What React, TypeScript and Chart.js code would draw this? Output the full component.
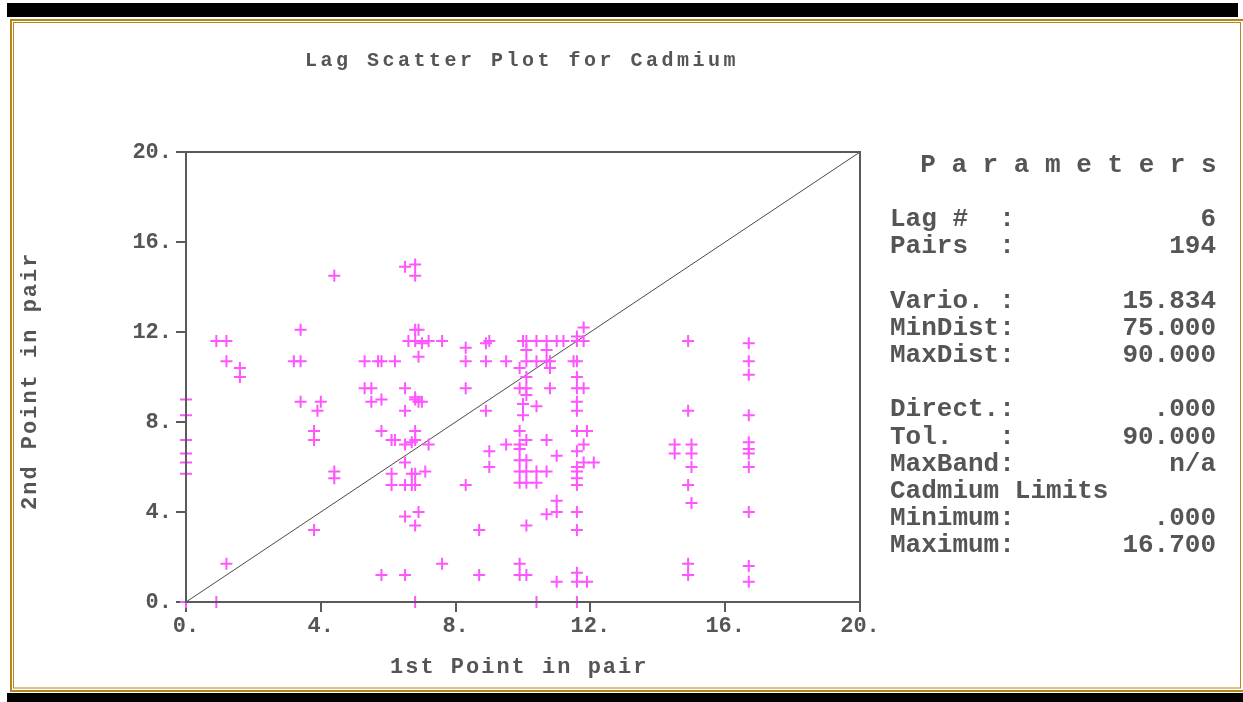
import React, { useEffect, useRef } from "react";
import { Chart, registerables } from "chart.js";

Chart.register(...registerables);

// 1st point of each lag pair (x) and 2nd point (y)
const firstPoint = [
  0, 0, 0, 0, 0, 0, 0,
  0.9, 1.2, 1.2, 1.6, 1.6, 1.2, 0.9,
  3.2, 3.4, 3.4, 3.4, 4.0, 3.9, 3.8, 3.8, 3.8,
  4.4, 4.4, 4.4,
  5.3, 5.7, 5.8, 6.2,
  5.3, 5.5, 5.5, 5.8,
  5.8, 6.1, 6.2,
  6.1, 6.1, 5.8,
  6.5, 6.8, 6.8,
  6.8, 6.9,
  6.6, 6.8, 7.0, 7.2, 7.6,
  6.9,
  6.5, 6.8, 6.8, 6.9, 7.0, 6.5,
  6.8, 6.7, 6.8, 6.5, 7.2,
  6.5, 6.7, 6.8, 7.1,
  6.5, 6.7, 6.8,
  6.5, 6.9, 6.8,
  6.5, 6.8,
  7.6,
  8.3, 8.3, 8.3, 8.3,
  8.9, 9.0, 8.9, 8.9,
  9.0, 9.0,
  8.7, 8.7,
  9.5, 9.5,
  10.0, 10.1, 10.4, 10.7, 11.0, 11.2, 11.6, 11.8,
  11.8, 11.6,
  10.1, 10.7,
  9.9, 10.1, 10.4, 10.7, 10.8, 11.5, 11.6,
  10.8,
  10.1, 11.6,
  9.9, 10.1, 10.8, 11.6, 11.8,
  10.1, 10.0, 10.4, 11.6,
  10.0, 11.6,
  9.9, 10.1, 9.9, 9.9, 10.7,
  11.6, 11.9, 11.8, 11.6,
  11.0, 12.1, 11.8, 9.9, 10.1, 11.6,
  9.9, 10.1, 10.4, 10.7, 11.6, 11.6,
  9.9, 10.1, 10.4, 11.6,
  11.0, 11.0, 10.7, 11.6,
  10.1, 11.6,
  9.9, 9.9, 10.1,
  11.0, 11.6, 11.6, 11.9,
  10.4, 11.6,
  14.9, 16.7, 16.7, 16.7,
  14.9, 16.7,
  14.5, 14.5, 15.0, 15.0, 15.0,
  16.7, 16.7, 16.7, 16.7,
  14.9, 15.0, 16.7,
  14.9, 14.9, 16.7, 16.7,
];

const secondPoint = [
  9.0, 8.3, 7.2, 6.6, 6.2, 5.7, 0.0,
  11.6, 11.6, 10.7, 10.4, 10.0, 1.7, 0.0,
  10.7, 10.7, 12.1, 8.9, 8.9, 8.5, 7.6, 7.2, 3.2,
  14.5, 5.8, 5.5,
  10.7, 10.7, 10.7, 10.7,
  9.5, 9.5, 8.9, 9.0,
  7.6, 7.2, 7.2,
  5.7, 5.2, 1.2,
  14.9, 15.0, 14.5,
  12.1, 12.1,
  11.6, 11.6, 11.5, 11.6, 11.6,
  10.9,
  9.5, 9.1, 9.0, 8.9, 8.9, 8.5,
  7.6, 7.1, 7.2, 7.0, 7.0,
  6.2, 5.7, 5.7, 5.8,
  5.2, 5.2, 5.2,
  3.8, 4.0, 3.4,
  1.2, 0.0,
  1.7,
  11.3, 10.7, 9.5, 5.2,
  11.5, 11.6, 10.7, 8.5,
  6.7, 6.0,
  3.2, 1.2,
  10.7, 7.0,
  11.6, 11.6, 11.6, 11.6, 11.6, 11.6, 11.6, 11.6,
  12.2, 11.8,
  11.2, 11.2,
  10.4, 10.7, 10.7, 10.7, 10.7, 10.7, 10.7,
  10.4,
  10.0, 10.0,
  9.5, 9.5, 9.5, 9.5, 9.5,
  9.2, 8.8, 8.7, 8.9,
  8.3, 8.5,
  7.6, 7.2, 7.0, 6.8, 7.2,
  7.6, 7.6, 7.0, 6.7,
  6.5, 6.2, 6.2, 6.3, 6.3, 6.0,
  5.8, 5.8, 5.8, 5.8, 5.8, 5.5,
  5.3, 5.3, 5.3, 5.2,
  4.5, 4.0, 3.9, 4.0,
  3.4, 3.2,
  1.7, 1.2, 1.2,
  0.9, 1.3, 0.9, 0.9,
  0.0, 0.0,
  11.6, 11.5, 10.7, 10.1,
  8.5, 8.3,
  7.0, 6.6, 7.0, 6.6, 6.0,
  7.1, 6.8, 6.6, 6.0,
  5.2, 4.4, 4.0,
  1.7, 1.2, 1.6, 0.9,
];

const axisMin = 0;
const axisMax = 20;
const axisStep = 4;

const chartTitle = "Lag Scatter Plot for Cadmium";
const xAxisTitle = "1st Point in pair";
const yAxisTitle = "2nd Point in pair";

const paramHeading = "P a r a m e t e r s";
const paramLabels = [
  "", "Lag #  :", "Pairs  :", "", "Vario. :", "MinDist:", "MaxDist:", "",
  "Direct.:", "Tol.   :", "MaxBand:", "Cadmium Limits", "Minimum:", "Maximum:",
];
const paramValues = [
  "", "6", "194", "", "15.834", "75.000", "90.000", "",
  ".000", "90.000", "n/a", "", ".000", "16.700",
];

const FONT = '"Liberation Mono", "DejaVu Sans Mono", monospace';
const TEXT_COLOR = "#555555";
const AXIS_COLOR = "#5a5a5a";
const GOLD = "#b5861a";

const decorPlugin = {
  id: "decor",
  beforeDraw(chart: any) {
    const ctx = chart.ctx as CanvasRenderingContext2D;
    const W = chart.width;
    ctx.save();
    ctx.fillStyle = "#ffffff";
    ctx.fillRect(0, 0, W, chart.height);
    // black bars
    ctx.fillStyle = "#000000";
    ctx.fillRect(7, 3, 1231, 14);
    ctx.fillRect(7, 693, W - 7, 9);
    // gold double frame
    ctx.strokeStyle = GOLD;
    ctx.lineWidth = 2;
    ctx.strokeRect(11, 20, 1233, 671);
    ctx.lineWidth = 1;
    ctx.strokeRect(13.5, 22.5, 1227, 665.5);
    ctx.restore();
  },
  afterDraw(chart: any) {
    const ctx = chart.ctx as CanvasRenderingContext2D;
    const a = chart.chartArea;
    ctx.save();
    // plot box
    ctx.strokeStyle = AXIS_COLOR;
    ctx.lineWidth = 2;
    ctx.strokeRect(a.left, a.top, a.right - a.left, a.bottom - a.top);

    ctx.fillStyle = TEXT_COLOR;
    (ctx as any).letterSpacing = "3.5px";
    ctx.font = `bold 20px ${FONT}`;
    ctx.textAlign = "left";
    ctx.textBaseline = "middle";
    ctx.fillText(chartTitle, 305, 61);

    (ctx as any).letterSpacing = "2px";
    ctx.font = `bold 22px ${FONT}`;
    ctx.fillText(xAxisTitle, 390, 667);

    ctx.save();
    ctx.translate(30, 510);
    ctx.rotate(-Math.PI / 2);
    ctx.fillText(yAxisTitle, 0, 0);
    ctx.restore();

    // parameters panel
    (ctx as any).letterSpacing = "0px";
    ctx.font = `bold 26px ${FONT}`;
    ctx.textAlign = "left";
    ctx.fillText("  " + paramHeading, 889, 165);
    const pitch = 27.2;
    for (let i = 0; i < paramLabels.length; i++) {
      const y = 165 + (i + 1) * pitch;
      if (paramLabels[i]) {
        ctx.textAlign = "left";
        ctx.fillText(paramLabels[i], 890, y);
      }
      if (paramValues[i]) {
        ctx.textAlign = "right";
        ctx.fillText(paramValues[i], 1216, y);
      }
    }
    ctx.restore();
  },
};

export default function App() {
  const ref = useRef<HTMLCanvasElement | null>(null);

  useEffect(() => {
    if (!ref.current) return;
    const points = firstPoint.map((x, i) => ({ x, y: secondPoint[i] }));
    const axisCommon = (pos: "x" | "y") => ({
      type: "linear" as const,
      min: axisMin,
      max: axisMax,
      border: { display: false },
      grid: {
        drawOnChartArea: false,
        drawTicks: true,
        tickLength: 10,
        color: AXIS_COLOR,
        lineWidth: 2,
      },
      ticks: {
        stepSize: axisStep,
        color: TEXT_COLOR,
        font: { family: FONT, size: 22, weight: "bold" as const },
        padding: pos === "x" ? 1 : 4,
        callback: (v: any) => `${v}.`,
      },
    });
    const chart = new Chart(ref.current, {
      type: "scatter",
      data: {
        datasets: [
          {
            label: "pairs",
            data: points,
            pointStyle: "cross",
            pointRadius: 6,
            pointBorderWidth: 2,
            borderColor: "#ff55ff",
            backgroundColor: "#ff55ff",
            clip: false,
          },
          {
            label: "diagonal",
            data: [
              { x: axisMin, y: axisMin },
              { x: axisMax, y: axisMax },
            ],
            showLine: true,
            pointRadius: 0,
            borderColor: "#4a4a4a",
            borderWidth: 1,
          },
        ],
      },
      options: {
        responsive: false,
        animation: false,
        devicePixelRatio: 1,
        layout: { padding: { left: 0, right: 383, top: 152, bottom: 0 } },
        plugins: {
          legend: { display: false },
          title: { display: false },
          tooltip: { enabled: false },
        },
        scales: {
          x: {
            ...axisCommon("x"),
            position: "bottom",
            afterFit: (s: any) => {
              s.height = 100;
            },
          },
          y: {
            ...axisCommon("y"),
            position: "left",
            afterFit: (s: any) => {
              s.width = 186;
            },
          },
        },
      },
      plugins: [decorPlugin],
    });
    return () => chart.destroy();
  }, []);

  return (
    <div style={{ position: "fixed", left: 0, top: 0, width: 1243, height: 702, background: "#fff" }}>
      <canvas ref={ref} width={1243} height={702} style={{ display: "block" }} />
    </div>
  );
}
